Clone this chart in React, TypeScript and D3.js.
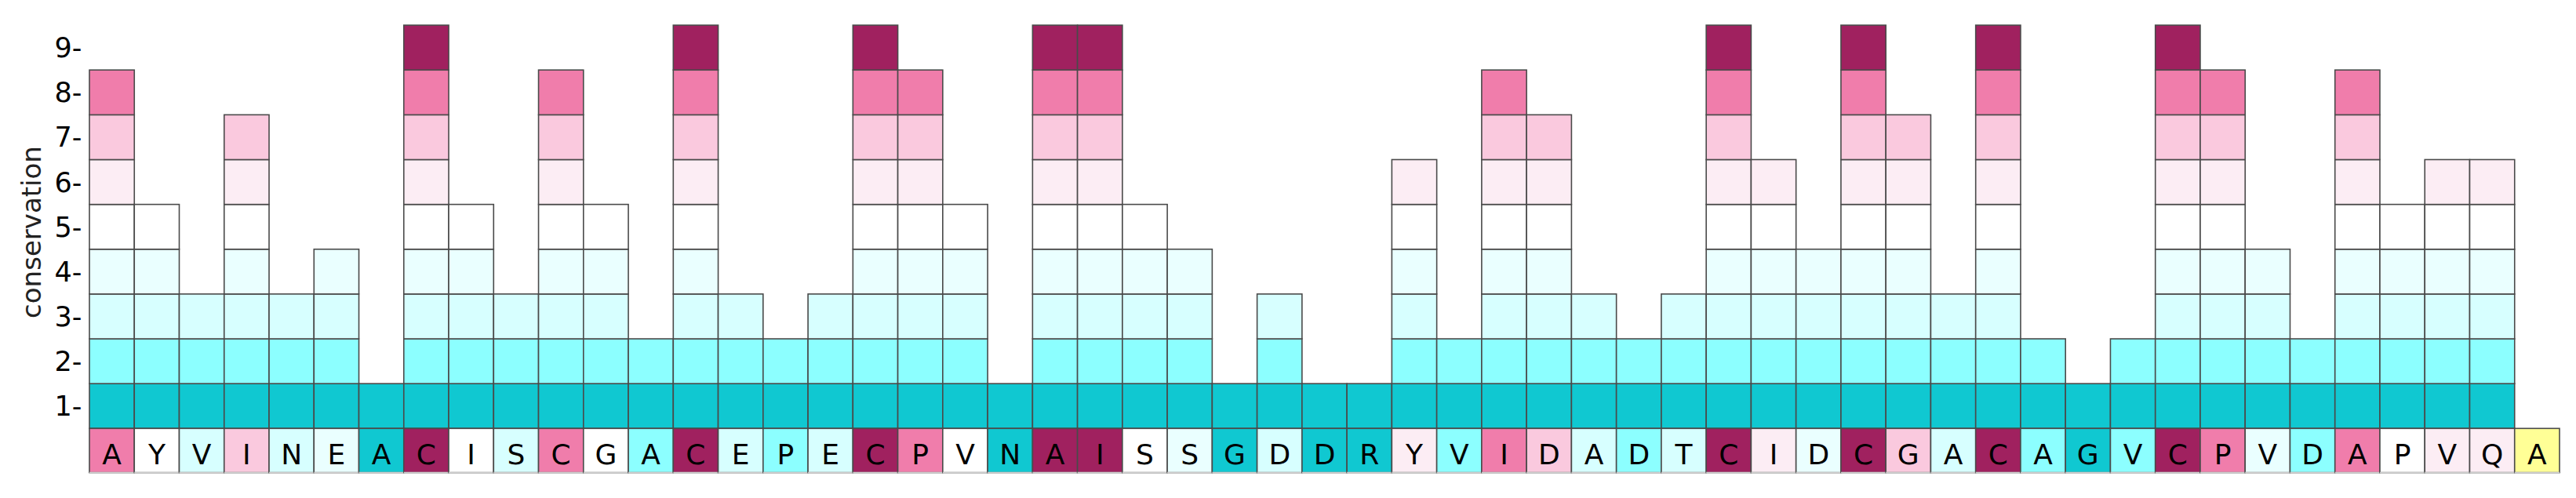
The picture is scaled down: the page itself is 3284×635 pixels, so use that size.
import React from "react";
import * as d3 from "d3";

const residues = ["A","Y","V","I","N","E","A","C","I","S","C","G","A","C","E","P","E","C","P","V","N","A","I","S","S","G","D","D","R","Y","V","I","D","A","D","T","C","I","D","C","G","A","C","A","G","V","C","P","V","D","A","P","V","Q","A"];
const scores = [8,5,3,7,3,4,1,9,5,3,8,5,2,9,3,2,3,9,8,5,1,9,9,5,4,1,3,1,1,6,2,8,7,3,2,3,9,6,4,9,7,3,9,2,1,2,9,8,4,2,8,5,6,6,0];
const gradeColors = ["#FFFF96","#10C8D1","#8CFFFF","#D7FFFF","#EAFFFF","#FFFFFF","#FCEDF4","#FAC9DE","#F07DAB","#A0215F"];
const tickLabels = ["1-","2-","3-","4-","5-","6-","7-","8-","9-"];
const yLabel = "conservation";

const W = 3284, H = 635;
const x0 = 114, x1 = 3263;
const yTop = 32.1, yBase = 546.3;
const FONT = "DejaVu Sans, sans-serif";

export default function App() {
  const idx = residues.map((_, i) => i);
  const x = d3.scaleBand<number>().domain(idx).range([x0, x1]).padding(0);
  const y = d3.scaleLinear().domain([0, 9]).range([yBase, yTop]);
  const bw = x.bandwidth();
  const rh = y(0) - y(1);
  const stroke = "#4a4a4a";

  const cells: JSX.Element[] = [];
  scores.forEach((s, i) => {
    for (let k = 1; k <= s; k++) {
      cells.push(
        <rect key={`c${i}-${k}`} x={x(i)} y={y(k)} width={bw} height={rh}
          fill={gradeColors[k]} stroke={stroke} strokeWidth={1.6} />
      );
    }
  });

  return (
    <svg width={W} height={H} style={{ position: "absolute", left: 0, top: 0, background: "#fff" }}
      fontFamily={FONT}>
      <rect x={0} y={0} width={W} height={H} fill="#fff" />
      {cells}
      {residues.map((r, i) => (
        <g key={`r${i}`}>
          <rect x={x(i)} y={yBase} width={bw} height={rh - 0.8}
            fill={gradeColors[scores[i]]} stroke={stroke} strokeWidth={1.6} />
          <line x1={x(i)} x2={(x(i) as number) + bw} y1={yBase + rh - 0.8} y2={yBase + rh - 0.8}
            stroke="#cfcfcf" strokeWidth={1.6} />
          <text x={(x(i) as number) + bw / 2} y={yBase + 46} textAnchor="middle"
            fontSize={36} fill="#000">{r}</text>
        </g>
      ))}
      {tickLabels.map((t, k) => (
        <text key={`t${k}`} x={104.5} y={y(k + 0.5) + 12.5} textAnchor="end" fontSize={35} fill="#000">{t}</text>
      ))}
      <text transform={`translate(51.5, ${296}) rotate(-90)`} textAnchor="middle" fontSize={34} fill="#222">{yLabel}</text>
    </svg>
  );
}
